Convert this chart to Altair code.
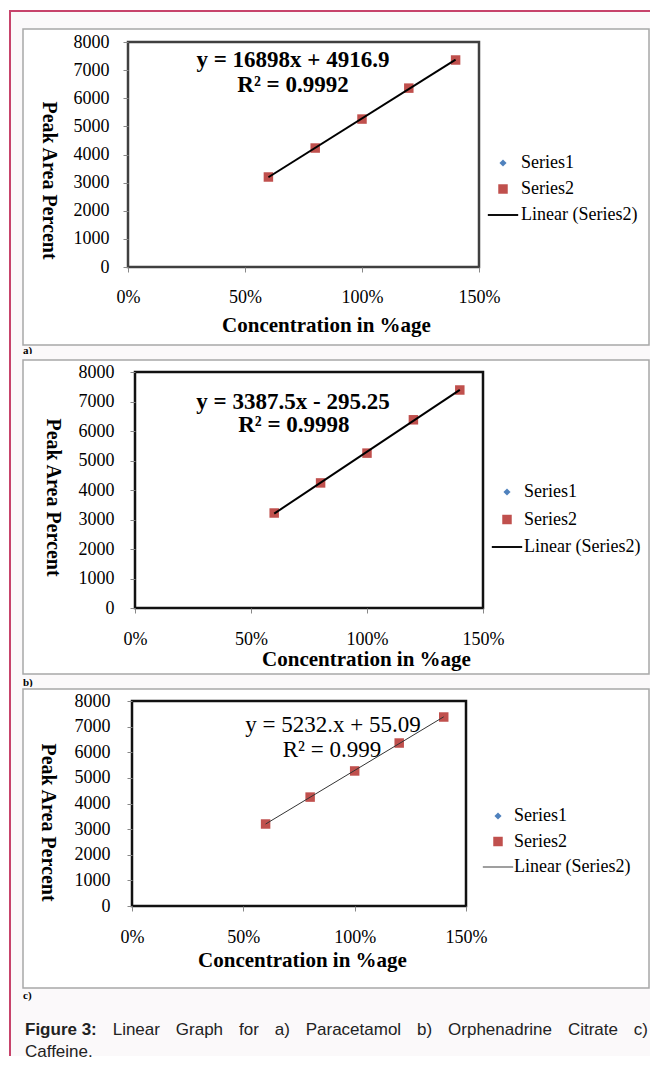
import altair as alt
import pandas as pd

# ---------------- data ----------------
conc = [0.6, 0.8, 1.0, 1.2, 1.4]
area_a = [3200, 4230, 5260, 6360, 7360]
area_b = [3220, 4240, 5250, 6380, 7390]
area_c = [3200, 4250, 5270, 6360, 7375]
series_names = ["Series1", "Series2", "Linear (Series2)"]
x_ticks = [0, 0.5, 1.0, 1.5]
y_ticks = [0, 1000, 2000, 3000, 4000, 5000, 6000, 7000, 8000]
eq_a = ["y = 16898x + 4916.9", "R\u00b2 = 0.9992"]
eq_b = ["y = 3387.5x - 295.25", "R\u00b2 = 0.9998"]
eq_c = ["y = 5232.x + 55.09", "R\u00b2 = 0.999"]
panel_labels = ["a)", "b)", "c)"]
caption_bold = "Figure 3:"
caption_words = ["Linear", "Graph", "for", "a)", "Paracetamol", "b)", "Orphenadrine", "Citrate", "c)"]
caption_line2 = "Caffeine."

# ---------------- style ----------------
BG = "#fbf9fa"
MAROON = "#c7436b"
BOXSTROKE = "#a8a8a8"
RED = "#c0504d"
BLUE = "#4f81bd"
SERIF = "Liberation Serif"
SANS = "Liberation Sans"
DIAMOND = "M0,-0.75L0.75,0L0,0.75L-0.75,0Z"
ORIGIN_X = 128   # page x of every panel group's origin
RIGHT = 650      # right edge of the drawing (page must not overflow the window)

panels = [
    dict(left=128, top=42, w=351, h=225, g=330, s0=10, s1=354, box=(23, 29, 649, 345), lab_y=351,
         frame="#404040", lw=2, lcol="#000000", eq_bold=True,
         eq_pos=[(0.705, 7360), (0.705, 6471)],
         xlp=25, ylp=14, xt=(326, 58), yt=(-80, 138),
         leg=(366, 112, 8, 9)),
    dict(left=135, top=372, w=348, h=236, g=329, s0=354, s1=687, box=(23, 360, 649, 674), lab_y=683,
         frame="#111111", lw=2, lcol="#000000", eq_bold=True,
         eq_pos=[(0.681, 6983), (0.685, 6203)],
         xlp=26, ylp=16, xt=(366, 51), yt=(-83, 125),
         leg=(370, 111, 9.5, 8)),
    dict(left=132, top=701, w=334, h=205, g=205, s0=687, s1=1056, box=(23, 689, 649, 988), lab_y=996,
         frame="#111111", lw=1, lcol="#333333", eq_bold=False,
         eq_pos=[(0.903, 7063), (0.898, 6088)],
         xlp=26, ylp=17, xt=(302, 54), yt=(-85, 121),
         leg=(361, 106, 7.5, 7)),
]

# Arial advance widths (1/1000 em) for justified caption
W_REG = {'L': 556, 'i': 222, 'n': 556, 'e': 556, 'a': 556, 'r': 333, 'G': 778, 'p': 556, 'h': 556,
         'f': 278, 'o': 556, ')': 333, 'P': 667, 'c': 500, 't': 278, 'm': 833, 'l': 222, 'b': 556,
         'O': 778, 'd': 556, 'C': 722, ' ': 278, '.': 278}
W_BOLD = {'F': 611, 'i': 278, 'g': 611, 'u': 611, 'r': 389, 'e': 556, ' ': 278, '3': 556, ':': 333}
CAP_FS = 17


def tw(s, table):
    return sum(table.get(ch, 556) for ch in s) * CAP_FS / 1000.0


one = pd.DataFrame({"k": [0]})


def deco_rect(rx, ry, x0, y0, x1, y1, **kw):
    return alt.Chart(one).mark_rect(**kw).encode(
        x=alt.value(rx(x0)), x2=alt.value(rx(x1)), y=alt.value(ry(y0)), y2=alt.value(ry(y1)))


def make_panel(i, p, areas, eqs):
    L, T, W, H, G = p["left"], p["top"], p["w"], p["h"], p["g"]
    dx = L - ORIGIN_X
    rx = lambda X: X - ORIGIN_X
    ry = lambda Y: Y - T
    layers = []
    layers.append(deco_rect(rx, ry, 9, p["s0"], RIGHT, p["s1"], fill=BG, strokeWidth=0))
    layers.append(deco_rect(rx, ry, 9, p["s0"], 11, p["s1"], fill=MAROON, strokeWidth=0))
    if i == 0:
        layers.append(deco_rect(rx, ry, 9, 10, RIGHT, 12, fill=MAROON, strokeWidth=0))
    bx = p["box"]
    layers.append(deco_rect(rx, ry, bx[0], bx[1], bx[2], bx[3], fill="white",
                            stroke=BOXSTROKE, strokeWidth=1.5))
    layers.append(alt.Chart(one).mark_text(font=SERIF, fontSize=11, fontWeight="bold", align="left",
                                           baseline="middle", color="black").encode(
        x=alt.value(rx(23)), y=alt.value(ry(p["lab_y"])), text=alt.value(panel_labels[i])))
    # plot frame
    layers.append(alt.Chart(one).mark_rect(fill="transparent", stroke=p["frame"], strokeWidth=2.5).encode(
        x=alt.value(dx), x2=alt.value(dx + W), y=alt.value(0), y2=alt.value(H)))

    x_axis = alt.Axis(values=x_ticks, format=".0%", labelFont=SERIF, labelFontSize=18, labelColor="black",
                      labelBaseline="middle", labelPadding=p["xlp"], tickSize=5, tickColor="#888888",
                      domain=False, grid=False, labelFlush=False, labelOverlap=False,
                      offset=-(G - H),
                      title="Concentration in %age", titleFont=SERIF, titleFontSize=21,
                      titleFontWeight="bold", titleColor="black", titleX=rx(p["xt"][0]), titleY=p["xt"][1],
                      titleAlign="center", titleBaseline="middle", zindex=1)
    y_axis = alt.Axis(values=y_ticks, format="d", labelFont=SERIF, labelFontSize=18, labelColor="black",
                      labelPadding=p["ylp"], tickSize=5, tickColor="#888888", domain=False, grid=False,
                      labelFlush=False, labelOverlap=False, offset=-dx,
                      title="Peak Area Percent", titleFont=SERIF, titleFontSize=20, titleFontWeight="bold",
                      titleColor="black", titleAngle=90, titleX=p["yt"][0], titleY=p["yt"][1],
                      titleAlign="center", titleBaseline="middle", zindex=1)
    xs = alt.Scale(domain=[0, 1.5], nice=False, zero=False, range=[dx, dx + W])
    ys = alt.Scale(domain=[0, 8000], nice=False, range=[H, 0])

    df = pd.DataFrame({"conc": conc, "area": areas, "series": ["Series2"] * len(conc)})
    half = 0.1 if p["lw"] == 1 else 0.2
    line_path = "M-3.2,-%s H3.2 V%s H-3.2Z" % (half, half)
    lx, ly, rp, lo = p["leg"]
    leg = alt.Legend(orient="none", legendX=lx, legendY=ly, title=None, labelFont=SERIF, labelFontSize=18,
                     labelColor="black", symbolSize=90, rowPadding=rp, labelOffset=lo, padding=0,
                     offset=0, zindex=1, symbolStrokeWidth=0, symbolOpacity=1)
    pts = alt.Chart(df).mark_point(filled=True, size=90, opacity=1, strokeWidth=0).encode(
        x=alt.X("conc:Q", scale=xs, axis=x_axis),
        y=alt.Y("area:Q", scale=ys, axis=y_axis),
        color=alt.Color("series:N", scale=alt.Scale(domain=series_names, range=[BLUE, RED, p["lcol"]]),
                        legend=leg),
        shape=alt.Shape("series:N", scale=alt.Scale(domain=series_names, range=[DIAMOND, "square", line_path]),
                        legend=leg),
    )
    layers.append(pts)
    trend = alt.Chart(df).transform_regression("conc", "area").mark_line(
        color=p["lcol"], strokeWidth=p["lw"]).encode(
        x=alt.X("conc:Q", scale=xs, axis=x_axis),
        y=alt.Y("area:Q", scale=ys, axis=y_axis))
    layers.append(trend)
    for (ex, ey), txt in zip(p["eq_pos"], eqs):
        kw = dict(font=SERIF, fontSize=23, align="center", baseline="middle", color="black")
        if p["eq_bold"]:
            kw["fontWeight"] = "bold"
        layers.append(alt.Chart(one).mark_text(**kw).encode(
            x=alt.X(datum=ex, type="quantitative", scale=xs, axis=x_axis),
            y=alt.Y(datum=ey, type="quantitative", scale=ys, axis=y_axis),
            text=alt.value(txt)))

    if i == 2:
        # caption, justified first line
        x0, x1 = 25, 648
        bw = tw(caption_bold, W_BOLD)
        widths = [tw(w, W_REG) for w in caption_words]
        gap = (x1 - x0 - bw - sum(widths)) / len(caption_words)
        layers.append(alt.Chart(one).mark_text(font=SANS, fontSize=CAP_FS, fontWeight="bold", align="left",
                                               baseline="middle", color="#222222").encode(
            x=alt.value(rx(x0)), y=alt.value(ry(1030)), text=alt.value(caption_bold)))
        cx = x0 + bw + gap
        for w, wd in zip(caption_words, widths):
            layers.append(alt.Chart(one).mark_text(font=SANS, fontSize=CAP_FS, align="left",
                                                   baseline="middle", color="#222222").encode(
                x=alt.value(rx(cx)), y=alt.value(ry(1030)), text=alt.value(w)))
            cx += wd + gap
        layers.append(alt.Chart(one).mark_text(font=SANS, fontSize=CAP_FS, align="left",
                                               baseline="middle", color="#222222").encode(
            x=alt.value(rx(x0)), y=alt.value(ry(1052)), text=alt.value(caption_line2)))

    return alt.layer(*layers).properties(width=dx + W, height=G)


pa = make_panel(0, panels[0], area_a, eq_a)
pb = make_panel(1, panels[1], area_b, eq_b)
pc = make_panel(2, panels[2], area_c, eq_c)

chart = alt.vconcat(pa, pb, pc, spacing=0, bounds="flush").resolve_scale(
    x="independent", y="independent", color="independent", shape="independent"
).resolve_legend(color="independent", shape="independent").properties(
    padding={"left": 1, "top": 2, "right": 0, "bottom": 0}, background="white"
).configure_view(strokeWidth=0).configure_axis(
    labelFont=SERIF, labelFontSize=18, labelColor="black", labelOverlap=False, grid=False
)

chart.save("out.html", embed_options={"renderer": "svg", "actions": False})
